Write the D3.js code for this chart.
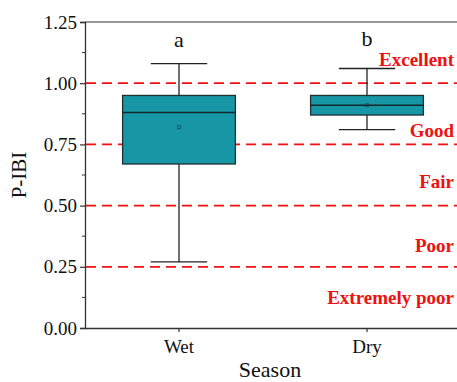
<!DOCTYPE html>
<html><body style="margin:0;background:#fff">
<script src="https://cdn.jsdelivr.net/npm/d3@7"></script>
<svg id="chart" width="457" height="382"></svg>
<script>
// Season box plot data
const seasons = ["Wet", "Dry"];
const whiskerLow = [0.27, 0.81];
const q1 = [0.67, 0.87];
const median = [0.88, 0.91];
const q3 = [0.95, 0.95];
const whiskerHigh = [1.08, 1.06];
const means = [0.82, 0.91];
const groupLetters = ["a", "b"];

// Grade thresholds and labels
const thresholds = [1.00, 0.75, 0.50, 0.25];
const grades = ["Excellent", "Good", "Fair", "Poor", "Extremely poor"];
const gradeY = [1.07, 0.78, 0.57, 0.31, 0.10];

const yTicks = [0, 0.25, 0.5, 0.75, 1.0, 1.25];

const margin = { top: 22, right: -4, bottom: 54, left: 85 };
const W = 457, H = 382;

const svg = d3.select("#chart");

// all labels go through here so they share the serif face
function label(sel, size, bold) {
  return sel
    .attr("font-family", "Liberation Serif")
    .style("font-family", '"Times New Roman"')
    .style("font-size", size + "px")
    .style("font-weight", bold ? "bold" : "normal");
}

const x = d3.scaleBand()
  .domain(seasons)
  .range([margin.left, W - margin.right])
  .paddingInner(0.4)
  .paddingOuter(0.2);

const y = d3.scaleLinear()
  .domain([0, 1.25])
  .range([H - margin.bottom, margin.top]);

// frame
svg.append("line")
  .attr("x1", margin.left).attr("x2", W)
  .attr("y1", y(1.25)).attr("y2", y(1.25))
  .attr("stroke", "#777").attr("stroke-width", 1.3);

// y axis
const yAxis = svg.append("g")
  .attr("transform", `translate(${margin.left},0)`)
  .call(d3.axisLeft(y).tickValues(yTicks).tickFormat(d3.format(".2f")).tickSize(5).tickPadding(3));
yAxis.attr("font-family", null).attr("font-size", null);
yAxis.select(".domain").attr("stroke", "#333").attr("stroke-width", 1.3);
yAxis.selectAll(".tick line").attr("stroke", "#333").attr("stroke-width", 1.2);
label(yAxis.selectAll("text"), 19).attr("fill", "#111");

// minor ticks
svg.append("g").selectAll("line")
  .data(d3.range(0.125, 1.25, 0.25))
  .join("line")
  .attr("x1", margin.left - 3).attr("x2", margin.left)
  .attr("y1", d => y(d)).attr("y2", d => y(d))
  .attr("stroke", "#333").attr("stroke-width", 1);

// x axis
const xAxis = svg.append("g")
  .attr("transform", `translate(0,${H - margin.bottom})`)
  .call(d3.axisBottom(x).tickSize(4).tickPadding(8).tickSizeOuter(0));
xAxis.attr("font-family", null).attr("font-size", null);
xAxis.select(".domain").attr("stroke", "#333").attr("stroke-width", 1.3);
xAxis.selectAll(".tick line").attr("stroke", "#333").attr("stroke-width", 1.2);
label(xAxis.selectAll("text"), 19).attr("fill", "#111");

// axis titles
label(svg.append("text"), 22)
  .attr("x", 270).attr("y", 377)
  .attr("text-anchor", "middle")
  .attr("fill", "#111")
  .text("Season");

label(svg.append("text"), 21)
  .attr("transform", `translate(26,${(y(0) + y(1.25)) / 2}) rotate(-90)`)
  .attr("text-anchor", "middle")
  .attr("fill", "#111")
  .text("P-IBI");

// threshold dashed lines
svg.append("g").selectAll("line")
  .data(thresholds)
  .join("line")
  .attr("x1", margin.left + 1).attr("x2", W)
  .attr("y1", d => y(d)).attr("y2", d => y(d))
  .attr("stroke", "#f01010")
  .attr("stroke-width", 1.8)
  .attr("stroke-dasharray", "10,6");

// boxes
const boxW = x.bandwidth();
const g = svg.append("g").selectAll("g")
  .data(seasons)
  .join("g");

g.append("line")
  .attr("x1", d => x(d) + boxW / 2).attr("x2", d => x(d) + boxW / 2)
  .attr("y1", (d, i) => y(whiskerLow[i])).attr("y2", (d, i) => y(whiskerHigh[i]))
  .attr("stroke", "#222").attr("stroke-width", 1.3);

g.selectAll(".cap")
  .data((d, i) => [whiskerLow[i], whiskerHigh[i]].map(v => ({ s: d, v })))
  .join("line")
  .attr("x1", d => x(d.s) + boxW / 4).attr("x2", d => x(d.s) + boxW * 3 / 4)
  .attr("y1", d => y(d.v)).attr("y2", d => y(d.v))
  .attr("stroke", "#222").attr("stroke-width", 1.3);

g.append("rect")
  .attr("x", d => x(d)).attr("width", boxW)
  .attr("y", (d, i) => y(q3[i]))
  .attr("height", (d, i) => y(q1[i]) - y(q3[i]))
  .attr("fill", "#1796a5")
  .attr("stroke", "#1f2f33").attr("stroke-width", 1.3);

g.append("line")
  .attr("x1", d => x(d)).attr("x2", d => x(d) + boxW)
  .attr("y1", (d, i) => y(median[i])).attr("y2", (d, i) => y(median[i]))
  .attr("stroke", "#10282c").attr("stroke-width", 1.5);

g.append("rect")
  .attr("x", d => x(d) + boxW / 2 - 1.5).attr("width", 3)
  .attr("y", (d, i) => y(means[i]) - 1.5).attr("height", 3)
  .attr("fill", "none")
  .attr("stroke", "#1c4a50").attr("stroke-width", 0.8);

label(g.append("text"), 22)
  .attr("x", d => x(d) + boxW / 2)
  .attr("y", (d, i) => i === 0 ? 47 : 46)
  .attr("text-anchor", "middle")
  .attr("fill", "#111")
  .text((d, i) => groupLetters[i]);

// grade labels
label(svg.append("g").selectAll("text")
  .data(grades)
  .join("text"), 19, true)
  .attr("x", 454)
  .attr("y", (d, i) => y(gradeY[i]))
  .attr("text-anchor", "end")
  .attr("fill", "#f01010")
  .text(d => d);
</script>
</body></html>
